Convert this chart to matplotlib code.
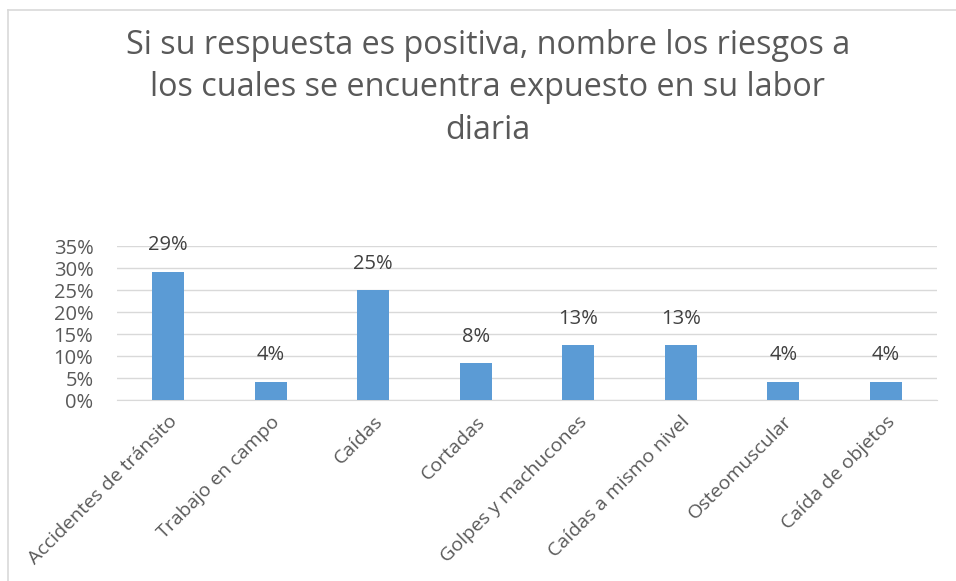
import numpy as np
import matplotlib.pyplot as plt
from matplotlib.lines import Line2D
from matplotlib.ticker import FuncFormatter

plt.rcParams['font.family'] = ['Open Sans', 'DejaVu Sans']

categorias = ['Accidentes de tránsito', 'Trabajo en campo', 'Caídas', 'Cortadas',
              'Golpes y machucones', 'Caídas a mismo nivel', 'Osteomuscular',
              'Caída de objetos']
valores = [29.17, 4.17, 25.0, 8.33, 12.5, 12.5, 4.17, 4.17]
etiquetas = ['29%', '4%', '25%', '8%', '13%', '13%', '4%', '4%']
titulo = 'Si su respuesta es positiva, nombre los riesgos a\nlos cuales se encuentra expuesto en su labor\ndiaria'

gris = '#595959'
fig = plt.figure(figsize=(9.56, 5.81), dpi=100)
ax = fig.add_axes([117/956, 1-400/581, 820/956, 154/581])

x = np.arange(len(categorias))
ax.bar(x, valores, width=0.31, color='#5B9BD5', zorder=3)
for xi, v, t in zip(x, valores, etiquetas):
    ax.text(xi, v + 3.7, t, ha='center', va='bottom', fontsize=14.5, color='#404040')

ax.set_xlim(-0.5, len(categorias) - 0.5)
ax.set_ylim(0, 35)
ax.set_yticks(np.arange(0, 36, 5))
ax.yaxis.set_major_formatter(FuncFormatter(lambda v, p: f'{v:.0f}%'))
ax.grid(axis='y', color='#D9D9D9', linewidth=1, zorder=0)
for s in ['top', 'right', 'left']:
    ax.spines[s].set_visible(False)
ax.spines['bottom'].set_color('#D9D9D9')
ax.tick_params(axis='both', length=0, labelsize=14.5, labelcolor=gris)
ax.tick_params(axis='y', pad=17)
ax.set_xticks(x)
ax.set_xticklabels(categorias, rotation=45, ha='right', va='top',
                   rotation_mode='anchor', fontsize=14)
ax.tick_params(axis='x', pad=9)

fig.text(488/956, 1-88/581, titulo, ha='center', va='center', fontsize=23.3,
         color=gris, linespacing=1.38)

# borde del gráfico
fig.add_artist(Line2D([8/956, 1], [1-10/581, 1-10/581], color='#D9D9D9', lw=1.2))
fig.add_artist(Line2D([8/956, 8/956], [0, 1-10/581], color='#D9D9D9', lw=1.2))

fig.savefig('out.png', dpi=100)
